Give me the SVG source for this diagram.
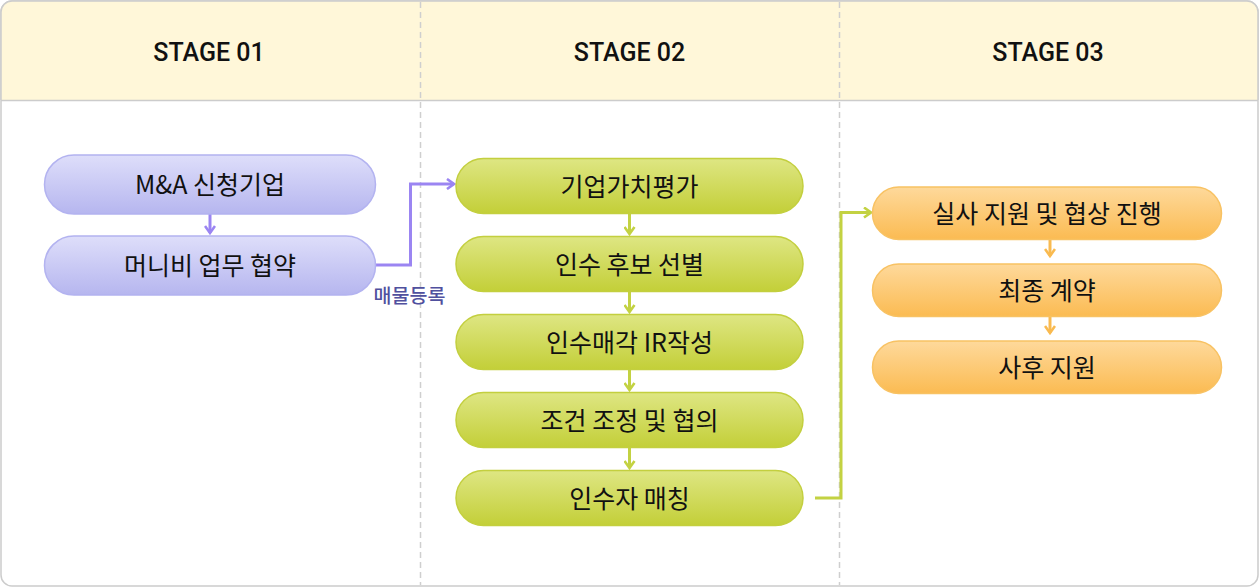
<svg xmlns="http://www.w3.org/2000/svg" width="1259" height="588" viewBox="0 0 1259 588">
<style>
.hdr{font-family:Roboto,"Noto Sans","Noto Sans CJK KR",sans-serif;font-size:25px;font-weight:500;fill:#111;text-anchor:middle}
.lbl{font-family:"Noto Sans CJK KR","Noto Sans",sans-serif;font-size:25px;fill:#111;text-anchor:middle;dominant-baseline:central}
.div{stroke:#cfcfcf;stroke-width:1.5;stroke-dasharray:6 4;fill:none}
.p{fill:url(#gp);stroke:#b3b3f0;stroke-width:1.5}
.g{fill:url(#gg);stroke:#c3cf3f;stroke-width:1.5}
.o{fill:url(#go);stroke:#f8c263;stroke-width:1.5}
.cp{stroke:#9b85f2;stroke-width:3;fill:none}
.cg{stroke:#c3d242;stroke-width:3;fill:none}
.co{stroke:#f9ba50;stroke-width:3;fill:none}
</style>
<defs>
<linearGradient id="gp" x1="0" y1="0" x2="0" y2="1"><stop offset="0" stop-color="#dedefa"/><stop offset="1" stop-color="#b6b6ef"/></linearGradient>
<linearGradient id="gg" x1="0" y1="0" x2="0" y2="1"><stop offset="0" stop-color="#dee683"/><stop offset="1" stop-color="#c3cf38"/></linearGradient>
<linearGradient id="go" x1="0" y1="0" x2="0" y2="1"><stop offset="0" stop-color="#fed99b"/><stop offset="1" stop-color="#fbbb52"/></linearGradient>
<marker id="ap" viewBox="0 0 10 12" refX="8" refY="6" markerWidth="10" markerHeight="12" markerUnits="userSpaceOnUse" orient="auto"><path d="M1,1 L8,6 L1,11" fill="none" stroke="#9b85f2" stroke-width="2.6"/></marker>
<marker id="ag" viewBox="0 0 10 12" refX="8" refY="6" markerWidth="10" markerHeight="12" markerUnits="userSpaceOnUse" orient="auto"><path d="M1,1 L8,6 L1,11" fill="none" stroke="#c3d242" stroke-width="2.6"/></marker>
<marker id="ao" viewBox="0 0 10 12" refX="8" refY="6" markerWidth="10" markerHeight="12" markerUnits="userSpaceOnUse" orient="auto"><path d="M1,1 L8,6 L1,11" fill="none" stroke="#f9ba50" stroke-width="2.6"/></marker>
</defs>
<g id="frame">
<rect x="1" y="1" width="1257" height="585" rx="11" fill="#ffffff" stroke="#cccccc" stroke-width="1.5"/>
<path d="M1,100 V12 A11,11 0 0 1 12,1 H1247 A11,11 0 0 1 1258,12 V100 Z" fill="#fff7d9"/>
<path d="M1,100 V12 A11,11 0 0 1 12,1 H1247 A11,11 0 0 1 1258,12 V100" fill="none" stroke="#cccccc" stroke-width="1.5"/>
<line x1="1" y1="100.5" x2="1258" y2="100.5" stroke="#cccccc" stroke-width="1.5"/>
<line class="div" x1="420.5" y1="2" x2="420.5" y2="585"/>
<line class="div" x1="839.5" y1="2" x2="839.5" y2="585"/>
<text class="hdr" x="209" y="61">STAGE 01</text>
<text class="hdr" x="629.5" y="61">STAGE 02</text>
<text class="hdr" x="1048" y="61">STAGE 03</text>
</g>
<g id="connectors">
<line class="cp" x1="210" y1="214" x2="210" y2="233" marker-end="url(#ap)"/>
<polyline class="cp" points="375,265 410.5,265 410.5,184 454,184" marker-end="url(#ap)"/>
<line class="cg" x1="629.5" y1="213" x2="629.5" y2="234" marker-end="url(#ag)"/>
<line class="cg" x1="629.5" y1="291" x2="629.5" y2="312" marker-end="url(#ag)"/>
<line class="cg" x1="629.5" y1="369" x2="629.5" y2="390" marker-end="url(#ag)"/>
<line class="cg" x1="629.5" y1="447" x2="629.5" y2="468" marker-end="url(#ag)"/>
<polyline class="cg" points="815,498 841,498 841,212.5 871,212.5" marker-end="url(#ag)"/>
<line class="co" x1="1050" y1="240" x2="1050" y2="256" marker-end="url(#ao)"/>
<line class="co" x1="1050" y1="317" x2="1050" y2="333" marker-end="url(#ao)"/>
<text x="409.5" y="303" font-family="'Noto Sans CJK KR',sans-serif" font-size="19.5" font-weight="500" fill="#50509e" text-anchor="middle">매물등록</text>
</g>
<g id="n1"><rect class="p" x="44.5" y="155" width="331" height="59" rx="29.5"/><text class="lbl" x="210" y="183">M&amp;A 신청기업</text></g>
<g id="n2"><rect class="p" x="44.5" y="236" width="331" height="59" rx="29.5"/><text class="lbl" x="210" y="264">머니비 업무 협약</text></g>
<g id="n3"><rect class="g" x="456" y="158.5" width="347" height="55" rx="27.5"/><text class="lbl" x="629.5" y="184.5">기업가치평가</text></g>
<g id="n4"><rect class="g" x="456" y="236.5" width="347" height="55" rx="27.5"/><text class="lbl" x="629.5" y="262.5">인수 후보 선별</text></g>
<g id="n5"><rect class="g" x="456" y="314.5" width="347" height="55" rx="27.5"/><text class="lbl" x="629.5" y="340.5">인수매각 IR작성</text></g>
<g id="n6"><rect class="g" x="456" y="392.5" width="347" height="55" rx="27.5"/><text class="lbl" x="629.5" y="418.5">조건 조정 및 협의</text></g>
<g id="n7"><rect class="g" x="456" y="470.5" width="347" height="55" rx="27.5"/><text class="lbl" x="629.5" y="496.5">인수자 매칭</text></g>
<g id="n8"><rect class="o" x="872.5" y="187" width="349" height="52.5" rx="26.25"/><text class="lbl" x="1047" y="211.5">실사 지원 및 협상 진행</text></g>
<g id="n9"><rect class="o" x="872.5" y="264" width="349" height="52.5" rx="26.25"/><text class="lbl" x="1047" y="288.5">최종 계약</text></g>
<g id="n10"><rect class="o" x="872.5" y="341" width="349" height="52.5" rx="26.25"/><text class="lbl" x="1047" y="365.5">사후 지원</text></g>
</svg>
